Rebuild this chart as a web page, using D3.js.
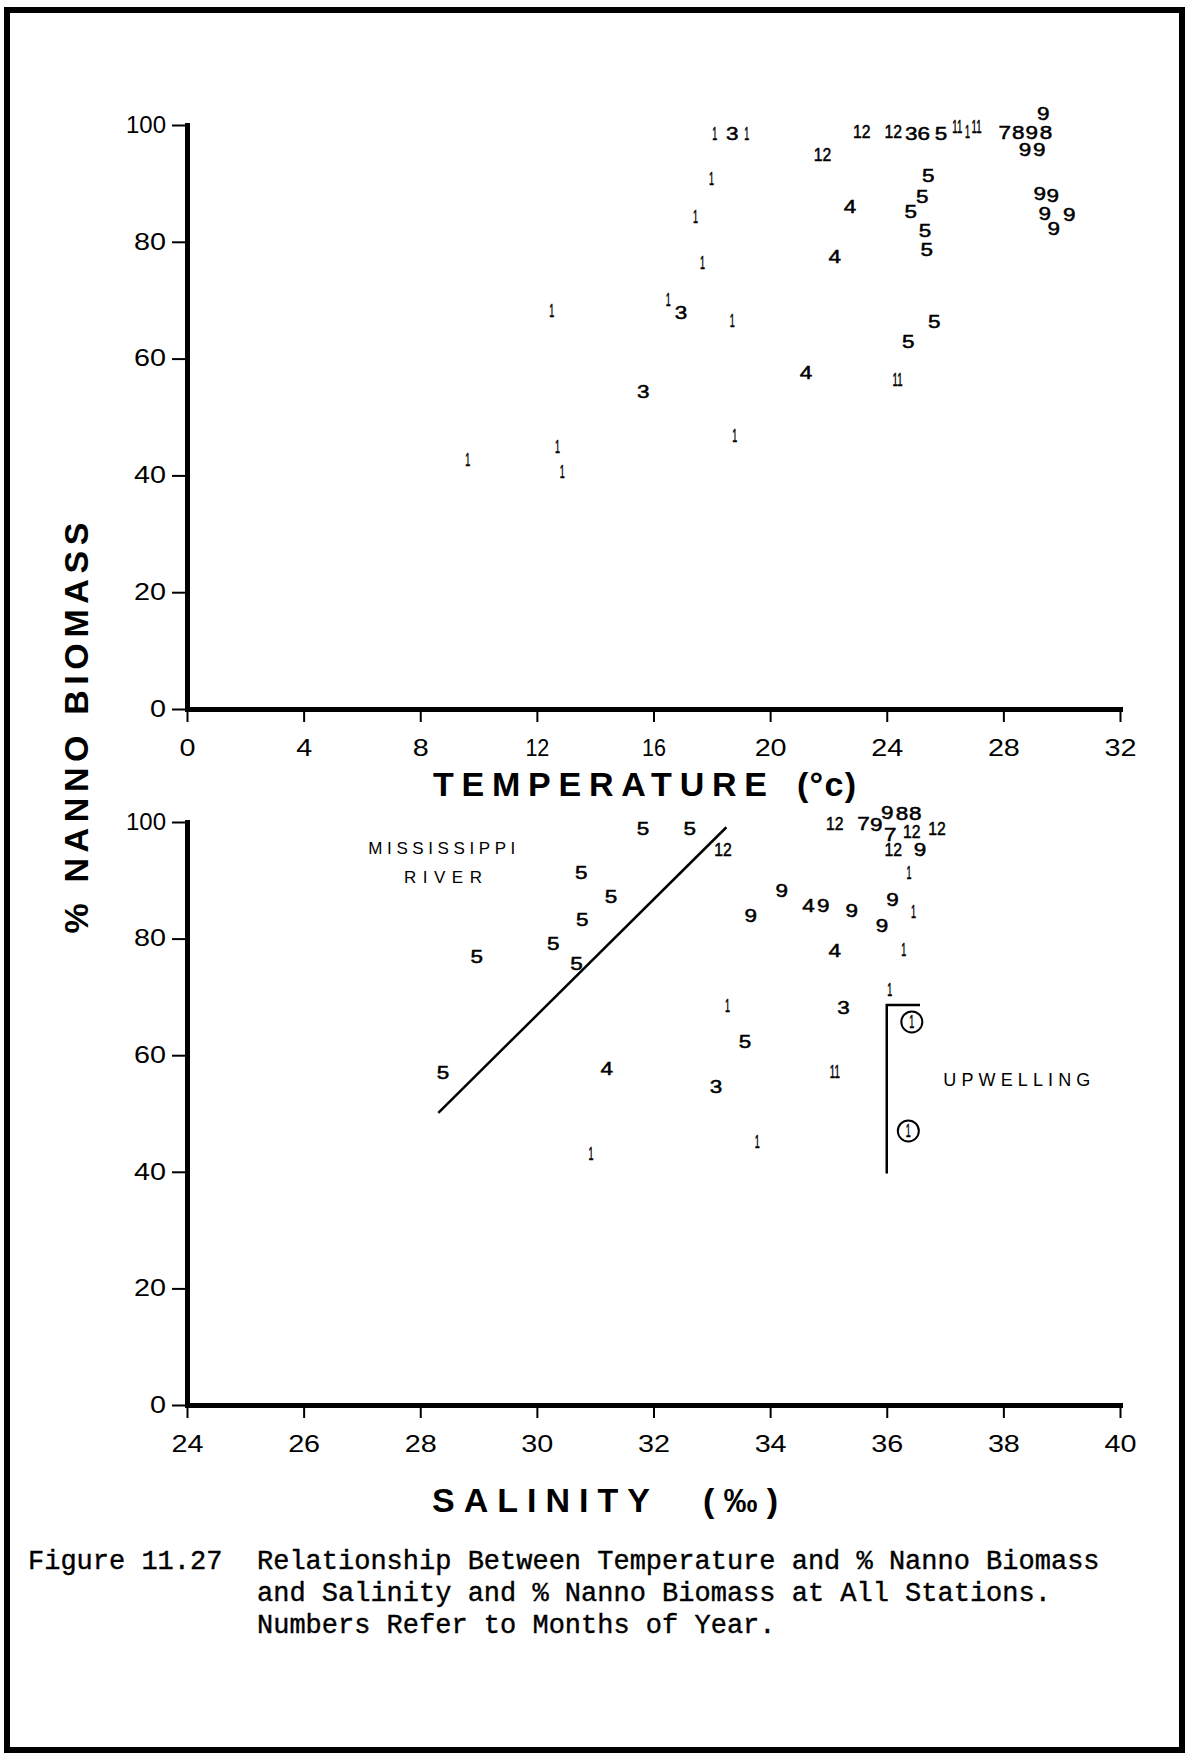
<!DOCTYPE html>
<html>
<head>
<meta charset="utf-8">
<script src="https://cdn.jsdelivr.net/npm/d3@7"></script>
<style>
  body { margin: 0; background: #fff; }
  svg { display: block; }
</style>
</head>
<body>
<div id="chart"></div>
<script>
// ---- top panel: temperature vs % nanno biomass (label = month) ----
const tempValues = [18.1, 18.7, 19.2, 23.14, 24.22, 24.84, 25.27, 25.86, 26.42, 26.77, 27.08,
    28.05, 28.51, 28.97, 29.46, 29.37, 28.74, 29.23, 21.8, 17.99, 25.42, 25.22, 24.82, 22.74,
    17.44, 29.25, 29.69, 29.42, 30.26, 29.73, 25.31, 25.37, 22.22, 17.68, 16.51, 16.94, 18.7,
    25.63, 24.74, 21.23, 24.37, 15.65, 18.79, 12.51, 12.71, 9.63, 12.87];
const tempNanno = [98.6, 98.6, 98.6, 98.85, 98.85, 98.6, 98.6, 98.6, 99.8, 98.85, 99.7,
    98.7, 98.7, 98.7, 98.7, 102.0, 95.8, 95.8, 94.9, 90.9, 91.4, 87.8, 85.2, 86.0,
    84.3, 88.3, 88.0, 84.9, 84.6, 82.3, 81.9, 78.6, 77.4, 76.4, 70.2, 67.9, 66.6,
    66.3, 62.9, 57.6, 56.5, 54.3, 46.9, 68.3, 45.0, 42.8, 40.6];
const tempMonths = ["1", "3", "1", "12", "12", "3", "6", "5", "11", "1", "11",
    "7", "8", "9", "8", "9", "9", "9", "12", "1", "5", "5", "5", "4",
    "1", "9", "9", "9", "9", "9", "5", "5", "4", "1", "1", "3", "1",
    "5", "5", "4", "11", "3", "1", "1", "1", "1", "1"];

// ---- bottom panel: salinity vs % nanno biomass ----
const salValues = [30.76, 31.27, 30.78, 30.28, 28.97, 30.68, 28.39, 31.2, 30.93, 31.82, 32.62,
    33.19, 35.11, 35.6, 35.82, 36.01, 36.26, 36.49, 36.06, 36.43, 36.86, 36.11, 36.57, 36.38,
    34.2, 33.67, 34.66, 34.91, 35.4, 36.1, 35.92, 36.46, 35.11, 36.29, 36.05, 33.27, 35.26,
    33.57, 35.11, 33.07, 33.78];
const salNanno = [91.3, 87.3, 83.2, 79.1, 76.9, 75.8, 57.0, 57.7, 43.2, 98.8, 98.8,
    95.2, 99.7, 99.7, 99.5, 101.6, 101.5, 101.5, 97.8, 98.3, 98.9, 95.3, 95.3, 91.4,
    88.2, 84.0, 85.6, 85.6, 84.9, 86.7, 82.3, 84.7, 78.0, 78.2, 71.3, 68.6, 68.2,
    62.3, 57.2, 54.6, 45.2];
const salMonths = ["5", "5", "5", "5", "5", "5", "5", "4", "1", "5", "5",
    "12", "12", "7", "9", "9", "8", "8", "7", "12", "12", "12", "9", "1",
    "9", "9", "4", "9", "9", "9", "9", "1", "4", "1", "1", "1", "3",
    "5", "11", "3", "1"];

// upwelling stations (circled)
const upwellSal = [36.43, 36.37];
const upwellNanno = [65.7, 47.0];
const upwellMonths = ["1", "1"];

// Mississippi River boundary line and upwelling bracket
const riverLineSal = [28.31, 33.25];
const riverLineNanno = [50.1, 99.1];
const bracketSal = [36.57, 36.0, 36.0];
const bracketNanno = [68.6, 68.6, 39.7];

const nannoTicks = [0, 20, 40, 60, 80, 100];
const tempTicks = [0, 4, 8, 12, 16, 20, 24, 28, 32];
const salTicks = [24, 26, 28, 30, 32, 34, 36, 38, 40];

const captionLines = [
    "Relationship Between Temperature and % Nanno Biomass",
    "and Salinity and % Nanno Biomass at All Stations.",
    "Numbers Refer to Months of Year."
];

const W = 1185, H = 1754;
const lettering = "'Liberation Sans', Arial, sans-serif";

// the hand lettering draws "1" as a bare stroke, other digits wide
const digitWidth = (s, one, other) =>
    s.split("").reduce((w, c) => w + (c === "1" ? one : other), 0);

const svg = d3.select("#chart").append("svg")
    .attr("width", W)
    .attr("height", H)
    .attr("viewBox", `0 0 ${W} ${H}`);

// page frame
svg.append("rect")
    .attr("x", 7).attr("y", 10)
    .attr("width", 1175).attr("height", 1740)
    .attr("fill", "none")
    .attr("stroke", "#000")
    .attr("stroke-width", 6);

function styleAxis(g) {
    g.select(".domain")
        .attr("stroke", "#000")
        .attr("stroke-width", 5)
        .attr("stroke-linecap", "square");
    g.selectAll(".tick line")
        .attr("stroke", "#000")
        .attr("stroke-width", 2);
    g.selectAll(".tick text")
        .attr("fill", "#000")
        .style("font-family", lettering)
        .style("font-size", "23px")
        .attr("textLength", function() { return digitWidth(this.textContent, 8, 16); })
        .attr("lengthAdjust", "spacingAndGlyphs");
}

function drawPanel(opts) {
    const x = d3.scaleLinear().domain(opts.xDomain).range([187, 1120]);
    const y = d3.scaleLinear().domain([0, 100]).range([opts.yBottom, opts.yTop]);

    svg.append("g")
        .attr("transform", `translate(0,${opts.yBottom})`)
        .call(d3.axisBottom(x).tickValues(opts.xTicks).tickSize(13).tickSizeOuter(0).tickPadding(18))
        .call(styleAxis);

    svg.append("g")
        .attr("transform", `translate(187,0)`)
        .call(d3.axisLeft(y).tickValues(nannoTicks).tickSize(15).tickSizeOuter(0).tickPadding(6))
        .call(styleAxis);

    const pts = opts.xs.map((v, i) => ({ x: v, y: opts.ys[i], label: opts.labels[i] }));

    svg.append("g")
        .selectAll("text")
        .data(pts)
        .enter()
        .append("text")
        .attr("x", d => x(d.x))
        .attr("y", d => y(d.y))
        .attr("dy", "0.36em")
        .attr("text-anchor", "middle")
        .attr("textLength", d => digitWidth(d.label, 5, 12.5))
        .attr("lengthAdjust", "spacingAndGlyphs")
        .style("font-family", lettering)
        .style("font-size", "18px")
        .attr("fill", "#000")
        .attr("stroke", "#000")
        .attr("stroke-width", 0.5)
        .text(d => d.label);

    return { x, y };
}

const tempPanel = drawPanel({
    xDomain: [0, 32], xTicks: tempTicks, yTop: 125, yBottom: 709,
    xs: tempValues, ys: tempNanno, labels: tempMonths
});

const salPanel = drawPanel({
    xDomain: [24, 40], xTicks: salTicks, yTop: 822, yBottom: 1405,
    xs: salValues, ys: salNanno, labels: salMonths
});

// Mississippi River line
const line = d3.line().x(d => salPanel.x(d[0])).y(d => salPanel.y(d[1]));
svg.append("path")
    .attr("d", line(riverLineSal.map((s, i) => [s, riverLineNanno[i]])))
    .attr("fill", "none")
    .attr("stroke", "#000")
    .attr("stroke-width", 2.5);

// upwelling bracket
svg.append("path")
    .attr("d", line(bracketSal.map((s, i) => [s, bracketNanno[i]])))
    .attr("fill", "none")
    .attr("stroke", "#000")
    .attr("stroke-width", 2.5);

// circled upwelling points
const circ = svg.append("g")
    .selectAll("g")
    .data(upwellSal.map((s, i) => ({ s, p: upwellNanno[i], label: upwellMonths[i] })))
    .enter()
    .append("g")
    .attr("transform", d => `translate(${salPanel.x(d.s)},${salPanel.y(d.p)})`);
circ.append("circle")
    .attr("r", 10.5)
    .attr("fill", "none")
    .attr("stroke", "#000")
    .attr("stroke-width", 2);
circ.append("text")
    .attr("dy", "0.36em")
    .attr("text-anchor", "middle")
    .attr("textLength", 5)
    .attr("lengthAdjust", "spacingAndGlyphs")
    .style("font-family", lettering)
    .style("font-size", "18px")
    .attr("stroke", "#000")
    .attr("stroke-width", 0.5)
    .text(d => d.label);

// annotations
svg.append("text")
    .attr("x", salPanel.x(28.37)).attr("y", salPanel.y(95.5)).attr("dy", "0.36em")
    .attr("text-anchor", "middle")
    .attr("textLength", 147)
    .style("font-family", lettering).style("font-size", "17px")
    .text("MISSISSIPPI");
svg.append("text")
    .attr("x", salPanel.x(28.39)).attr("y", salPanel.y(90.6)).attr("dy", "0.36em")
    .attr("text-anchor", "middle")
    .attr("textLength", 78)
    .style("font-family", lettering).style("font-size", "17px")
    .text("RIVER");
svg.append("text")
    .attr("x", salPanel.x(38.23)).attr("y", salPanel.y(55.9)).attr("dy", "0.36em")
    .attr("text-anchor", "middle")
    .attr("textLength", 147)
    .style("font-family", lettering).style("font-size", "18px")
    .text("UPWELLING");

// axis titles
function boldLabel(txt, x0, x1, baseline) {
    svg.append("text")
        .attr("x", x0).attr("y", baseline)
        .attr("textLength", x1 - x0)
        .attr("lengthAdjust", "spacing")
        .style("font-family", lettering)
        .style("font-weight", "bold")
        .style("font-size", "34px")
        .text(txt);
}
boldLabel("TEMPERATURE", 433, 767, 796);
boldLabel("(°c)", 797, 856, 796);
boldLabel("SALINITY", 432, 650, 1512);
boldLabel("(‰)", 703, 778, 1512);

svg.append("text")
    .attr("transform", "translate(88,728) rotate(-90)")
    .attr("text-anchor", "middle")
    .attr("textLength", 411)
    .attr("lengthAdjust", "spacing")
    .style("font-family", lettering)
    .style("font-weight", "bold")
    .style("font-size", "34px")
    .text("% NANNO BIOMASS");

// caption
const mono = "'Courier New', 'Liberation Mono', monospace";
svg.append("text")
    .attr("x", 28).attr("y", 1569)
    .style("font-family", mono).style("font-size", "27px")
    .attr("stroke", "#000").attr("stroke-width", 0.4)
    .text("Figure 11.27");
svg.append("g")
    .selectAll("text")
    .data(captionLines)
    .enter()
    .append("text")
    .attr("x", 257)
    .attr("y", (d, i) => 1569 + i * 32)
    .style("font-family", mono)
    .style("font-size", "27px")
    .attr("stroke", "#000").attr("stroke-width", 0.4)
    .text(d => d);
</script>
</body>
</html>
